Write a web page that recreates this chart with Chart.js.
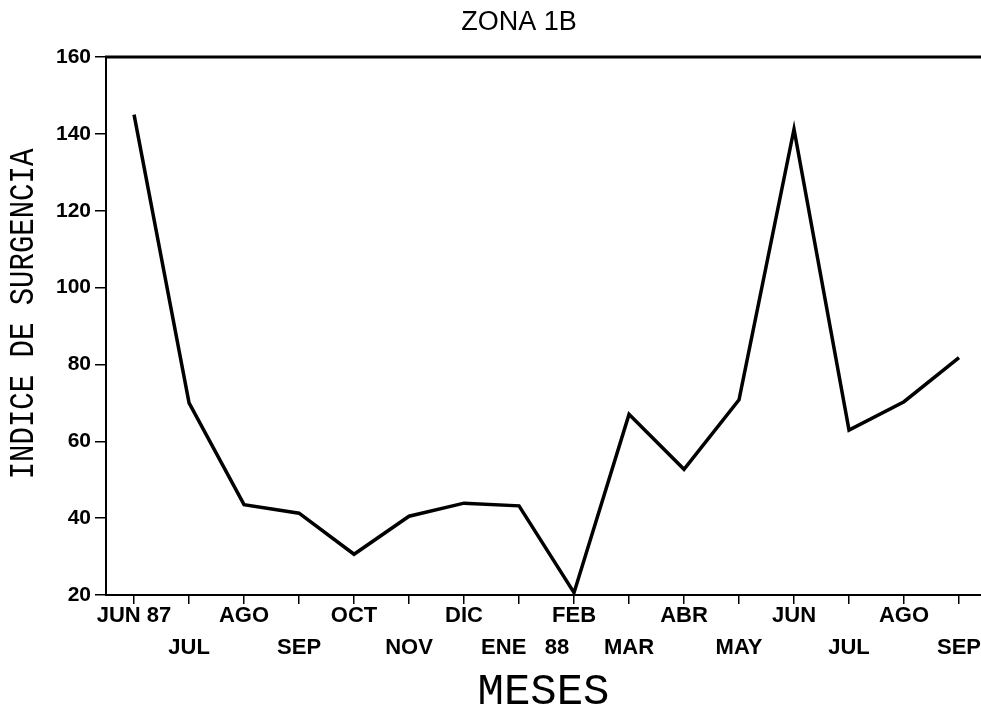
<!DOCTYPE html>
<html>
<head>
<meta charset="utf-8">
<title>Zona 1B</title>
<script src="https://cdn.jsdelivr.net/npm/chart.js@4.4.0/dist/chart.umd.min.js"></script>
<style>
  html, body { margin: 0; padding: 0; background: #fff; }
  canvas { display: block; }
</style>
</head>
<body>
<canvas id="chart" width="981" height="714"></canvas>
<script>
// monthly values, Jun 87 - Sep 88
const months = ['JUN 87', 'JUL', 'AGO', 'SEP', 'OCT', 'NOV', 'DIC', '  ENE   88', 'FEB', 'MAR', 'ABR', 'MAY', 'JUN', 'JUL', 'AGO', 'SEP'];
const surgencia = [145, 70, 43.5, 41.3, 30.6, 40.5, 43.9, 43.2, 20.6, 67, 52.7, 70.8, 141.2, 62.9, 70.3, 81.8];
const yTicks = [20, 40, 60, 80, 100, 120, 140, 160];

const sans = "'Liberation Sans', Arial, Helvetica, sans-serif";
const mono = "'Liberation Mono', 'Courier New', monospace";

// top frame line + rotated y title
const extras = {
  id: 'extras',
  afterDraw(chart) {
    const { ctx, chartArea } = chart;
    ctx.save();
    ctx.strokeStyle = '#000';
    ctx.lineWidth = 3;
    ctx.beginPath();
    ctx.moveTo(chartArea.left - 1, chartArea.top);
    ctx.lineTo(chartArea.right, chartArea.top);
    ctx.stroke();

    ctx.translate(33, 314);
    ctx.rotate(-Math.PI / 2);
    ctx.scale(1, 1.2);
    ctx.font = '29px ' + mono;
    ctx.fillStyle = '#000';
    ctx.textAlign = 'center';
    ctx.textBaseline = 'alphabetic';
    ctx.fillText('INDICE DE SURGENCIA', 0, 0);
    ctx.restore();
  }
};

new Chart(document.getElementById('chart'), {
  type: 'line',
  data: {
    datasets: [{
      data: surgencia.map((v, i) => ({ x: i, y: v })),
      borderColor: '#000',
      borderWidth: 3.5,
      pointRadius: 0,
      tension: 0,
      borderJoinStyle: 'miter',
      clip: false
    }]
  },
  options: {
    responsive: false,
    animation: false,
    events: [],
    layout: { padding: { left: 57, right: 0, top: 0, bottom: 0 } },
    plugins: {
      legend: { display: false },
      tooltip: { enabled: false },
      title: {
        display: true,
        text: 'ZONA 1B',
        color: '#000',
        font: { family: sans, size: 27, weight: 'normal', lineHeight: 1.2 },
        padding: { top: 6, bottom: 18.6 }
      }
    },
    scales: {
      x: {
        type: 'linear',
        min: -0.51,
        max: 15.4,
        afterBuildTicks: s => { s.ticks = months.map((m, i) => ({ value: i })); },
        ticks: {
          color: '#000',
          autoSkip: false,
          minRotation: 0,
          maxRotation: 0,
          padding: -4,
          font: { family: sans, size: 22, weight: 'bold', lineHeight: 32 / 22 },
          // alternate the months between two rows
          callback: v => v % 2 === 0 ? [months[v], ''] : ['', months[v]]
        },
        grid: { drawOnChartArea: false, color: '#000', lineWidth: 1.5, tickLength: 9 },
        border: { color: '#000', width: 2 },
        title: {
          display: true,
          text: 'MESES',
          color: '#000',
          font: { family: mono, size: 44, lineHeight: 1 },
          padding: { top: 10, bottom: 0 }
        }
      },
      y: {
        min: 20,
        max: 160,
        afterBuildTicks: s => { s.ticks = yTicks.map(v => ({ value: v })); },
        afterFit: s => { s.width = 49; },
        ticks: { color: '#000', padding: 4, font: { family: sans, size: 21, weight: 'bold' } },
        grid: { drawOnChartArea: false, color: '#000', lineWidth: 1.5, tickLength: 11 },
        border: { color: '#000', width: 2 }
      }
    }
  },
  plugins: [extras]
});
</script>
</body>
</html>
